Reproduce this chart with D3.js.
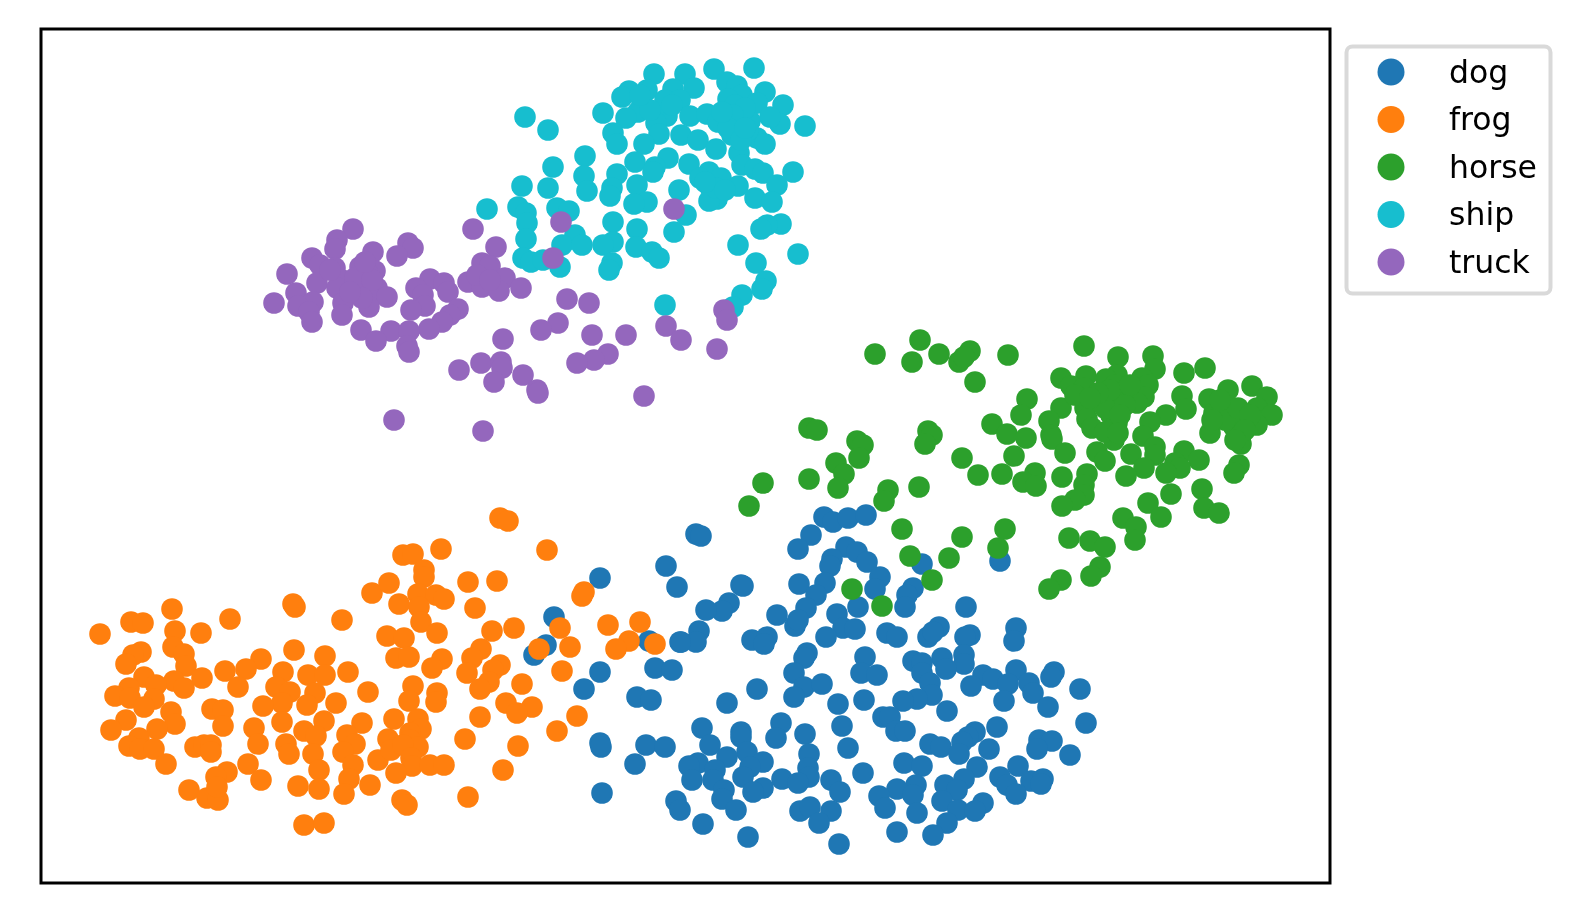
<!DOCTYPE html>
<html>
<head>
<meta charset="utf-8">
<script src="https://cdn.jsdelivr.net/npm/d3@7"></script>
<style>html,body{margin:0;padding:0;background:#fff;overflow:hidden}svg{display:block;filter:blur(0.5px)}</style>
</head>
<body>
<script>
const categories = ["dog","frog","horse","ship","truck"];
const colors = ["#1f77b4","#ff7f0e","#2ca02c","#17becf","#9467bd"];
const dog = [[600,578],[666,566],[677,587],[554,617],[546,645],[534,655],[649,641],[681,642],[600,672],[584,689],[655,668],[672,670],[637,697],[651,700],[600,743],[601,747],[646,745],[665,747],[635,764],[602,793],
[696,534],[701,536],[741,585],[743,586],[729,603],[722,611],[706,610],[699,631],[696,642],[680,642],[824,517],[833,522],[848,518],[866,515],[811,535],[798,549],[846,547],[857,552],[832,559],[867,562],[830,566],[880,577],[825,583],[799,584],[875,589],[816,595],[913,588],[907,595],[905,607],[922,564],[1000,561],[806,608],[777,615],[858,607],[966,607],[837,614],[795,626],[798,620],[843,628],[855,629],[826,637],[887,633],[897,637],[939,627],[928,637],[933,632],[970,635],[965,637],[1016,628],[1014,641],[752,640],[767,637],[764,644],[807,653],[804,658],[865,657],[942,658],[964,655],[913,661],[922,663],[964,664],[946,669],[794,673],[861,673],[877,675],[922,673],[983,675],[1016,670],[993,679],[1054,672],[1051,677],[804,687],[822,684],[930,683],[971,686],[1008,684],[1029,683],[1033,693],[757,689],[794,697],[932,695],[917,699],[903,701],[1004,701],[1048,707],[1080,689],[727,703],[838,704],[864,700],[947,711],[883,717],[890,717],[896,731],[905,731],[1086,723],[842,726],[781,723],[776,738],[805,734],[702,728],[741,732],[741,737],[710,745],[997,727],[975,732],[968,737],[962,742],[930,744],[941,747],[959,754],[989,749],[1039,740],[1052,741],[1037,749],[848,748],[809,754],[1070,755],[747,752],[727,757],[698,763],[763,762],[689,766],[904,763],[922,766],[977,767],[1018,766],[715,770],[750,767],[808,768],[863,773],[743,777],[692,780],[713,780],[782,779],[809,777],[831,780],[798,783],[1000,777],[964,779],[1031,781],[1043,779],[916,785],[945,785],[1007,785],[1041,784],[763,788],[753,792],[724,790],[897,789],[957,790],[840,792],[879,796],[1016,794],[913,795],[722,799],[676,801],[942,801],[983,803],[680,810],[736,810],[800,811],[810,807],[831,811],[885,808],[917,813],[958,810],[975,811],[819,823],[947,823],[703,824],[897,832],[933,835],[748,837],[839,844]];
const frog = [[100,634],[131,622],[143,623],[172,609],[230,619],[175,631],[201,633],[293,604],[295,607],[342,620],[372,593],[387,636],[141,652],[133,655],[126,664],[173,647],[184,654],[186,666],[294,650],[325,656],[261,659],[246,669],[225,671],[283,672],[308,675],[325,675],[348,672],[144,677],[202,678],[174,681],[184,688],[238,687],[156,685],[129,688],[115,696],[130,698],[154,699],[144,707],[276,687],[290,692],[315,693],[368,692],[282,703],[263,706],[307,705],[336,703],[212,709],[223,710],[171,712],[126,720],[175,724],[157,729],[111,730],[223,726],[282,722],[324,721],[362,723],[254,728],[304,731],[316,736],[347,735],[388,739],[258,744],[286,744],[355,744],[139,738],[129,746],[140,749],[154,749],[195,747],[204,745],[211,745],[211,752],[343,752],[289,754],[313,754],[378,760],[166,764],[248,764],[353,765],[319,770],[227,772],[216,777],[261,780],[349,779],[298,786],[319,789],[370,785],[344,794],[189,790],[207,798],[218,800],[217,787],[304,825],[324,823],
[500,518],[508,521],[547,550],[441,549],[403,555],[413,554],[424,570],[424,577],[389,583],[468,582],[497,581],[584,592],[582,596],[418,594],[436,595],[444,599],[399,604],[419,607],[475,608],[421,622],[437,633],[492,631],[514,628],[404,638],[560,628],[608,625],[640,622],[629,641],[616,649],[655,644],[570,647],[539,649],[481,649],[472,658],[396,658],[409,657],[442,659],[432,668],[500,665],[493,670],[467,673],[562,671],[489,682],[480,689],[522,684],[413,686],[437,693],[409,701],[436,702],[506,703],[532,707],[517,713],[480,717],[577,716],[394,719],[418,719],[421,729],[557,731],[465,739],[410,733],[391,750],[410,740],[418,747],[403,745],[518,746],[411,758],[412,766],[430,765],[444,765],[396,773],[503,770],[402,800],[407,805],[468,797]];
const horse = [[875,354],[920,340],[912,362],[939,354],[970,351],[959,362],[964,357],[1008,355],[975,382],[1084,346],[1118,357],[1153,356],[1155,369],[1184,373],[1205,368],[1061,378],[1086,376],[1117,375],[1106,379],[1142,378],[1148,385],[1071,386],[1084,388],[1027,399],[1252,386],[1228,390],[1182,396],[1267,397],[1209,399],[1104,399],[1117,395],[1128,395],[1144,397],[1137,403],[1114,405],[1061,408],[1085,408],[1186,409],[1257,408],[1230,408],[1214,413],[1272,415],[1021,415],[1111,415],[1166,415],[1049,421],[1087,419],[1150,422],[1257,425],[1244,420],[1117,423],[1092,428],[1234,427],[1210,433],[992,424],[1007,434],[1026,438],[1051,435],[1052,439],[1143,436],[1114,440],[1241,435],[1241,444],[1155,447],[1065,453],[1014,456],[1097,452],[1131,454],[1155,455],[1184,451],[1105,461],[1199,460],[962,458],[1144,468],[1175,463],[1180,468],[1166,473],[1239,465],[1234,473],[978,475],[1002,474],[1035,473],[1023,482],[1036,486],[1062,477],[1087,474],[1126,476],[1084,485],[1202,489],[1171,494],[1084,495],[1148,503],[1075,500],[1062,506],[1204,508],[1161,517],[1219,513],[1123,518],[1136,527],[1135,540],[1069,538],[1090,541],[1105,547],[1100,567],[1091,576],[1061,580],[1049,589],
[809,428],[817,430],[857,441],[863,445],[859,458],[928,431],[932,435],[925,444],[836,463],[844,474],[838,488],[809,479],[763,483],[749,506],[888,490],[884,501],[919,487],[902,529],[962,537],[1005,529],[998,548],[949,558],[910,556],[932,580],[852,589],[882,606],
[1115,385],[1105,408],[1125,405],[1120,415],[1110,390],[1130,385],[1098,393],[1105,432],[1118,433],[1225,420],[1238,408],[1250,415],[1220,400],[1245,430],[1212,420],[1235,440],[1075,395],[1090,398]];
const ship = [[754,68],[714,69],[654,74],[685,74],[694,88],[727,82],[737,86],[629,91],[622,97],[647,90],[673,89],[765,92],[742,95],[728,99],[665,100],[680,100],[783,105],[757,103],[642,103],[603,113],[805,126],[780,124],[770,117],[525,117],[548,130],[638,112],[626,118],[667,116],[690,116],[707,114],[718,122],[737,120],[750,121],[656,123],[613,133],[659,134],[732,135],[681,135],[698,140],[757,138],[765,144],[617,144],[644,144],[716,149],[739,153],[585,156],[668,158],[635,162],[689,164],[742,165],[553,167],[655,167],[793,172],[755,169],[763,173],[709,172],[584,176],[617,174],[653,172],[721,178],[700,178],[777,185],[612,188],[637,185],[522,186],[548,188],[738,186],[710,187],[587,191],[679,190],[610,196],[755,198],[772,202],[717,199],[709,201],[518,207],[647,202],[634,204],[487,209],[557,208],[569,211],[526,213],[686,215],[527,223],[613,222],[781,224],[767,225],[761,229],[637,229],[575,235],[674,232],[526,239],[613,242],[603,245],[738,245],[562,245],[582,245],[798,254],[636,247],[652,252],[659,258],[756,263],[523,258],[531,262],[543,260],[560,267],[612,263],[609,270],[766,281],[762,289],[742,295],[665,305],[733,307],
[735,105],[745,108],[733,115],[728,128],[748,130],[741,140],[722,112],[745,128],[672,105],[650,110],[640,95],[716,188],[705,182],[725,190]];
const truck = [[353,229],[337,240],[335,249],[473,229],[408,243],[413,248],[373,252],[397,256],[496,247],[312,258],[320,265],[360,267],[335,268],[375,271],[287,274],[367,272],[482,263],[490,266],[505,278],[317,283],[342,280],[430,279],[444,283],[416,288],[468,282],[482,287],[499,291],[521,288],[337,288],[363,288],[377,288],[296,293],[448,292],[370,297],[387,297],[423,295],[274,303],[313,302],[298,306],[343,303],[369,307],[425,306],[411,310],[458,309],[309,312],[342,315],[450,315],[312,322],[442,322],[429,329],[361,330],[391,331],[409,331],[376,341],[407,346],[409,352],[567,299],[589,303],[558,323],[541,330],[503,339],[592,335],[626,335],[608,354],[594,360],[577,363],[666,326],[681,340],[724,310],[727,320],[717,349],[481,363],[501,362],[502,368],[459,370],[494,382],[523,375],[537,390],[538,393],[644,396],[394,420],[483,431],[561,222],[553,258],[674,209],
[355,278],[372,280],[362,298],[350,292],[365,262],[477,275],[490,280],[330,270]];
const seriesPoints = [dog, frog, horse, ship, truck];

const W = 1578, H = 924;
const svg = d3.select("body").append("svg").attr("width", W).attr("height", H);
const left = 41, right = 1330, top_ = 29, bottom = 883;
const x = d3.scaleLinear().domain([41, 1330]).range([left, right]);
const y = d3.scaleLinear().domain([29, 883]).range([top_, bottom]);
const color = d3.scaleOrdinal().domain(categories).range(colors);

categories.forEach((c, i) => {
  svg.append("g").attr("class", "series-" + c)
    .selectAll("circle").data(seriesPoints[i]).join("circle")
    .attr("cx", d => x(d[0])).attr("cy", d => y(d[1])).attr("r", 10.8)
    .attr("fill", color(c));
});

svg.append("rect").attr("x", left).attr("y", top_).attr("width", right - left).attr("height", bottom - top_)
  .attr("fill", "none").attr("stroke", "#000").attr("stroke-width", 3);

const lg = svg.append("g").attr("class", "legend");
lg.append("rect").attr("x", 1346.5).attr("y", 46.5).attr("width", 204).attr("height", 247).attr("rx", 6)
  .attr("fill", "#fff").attr("stroke", "#d9d9d9").attr("stroke-width", 4);
const legendY = d3.scalePoint().domain(categories).range([72, 262]);
const items = lg.selectAll("g.item").data(categories).join("g").attr("class", "item");
items.append("circle").attr("cx", 1391).attr("cy", d => legendY(d)).attr("r", 13.5).attr("fill", d => color(d));
items.append("text").attr("x", 1449).attr("y", d => legendY(d) + 10.5)
  .attr("font-family", "'DejaVu Sans', sans-serif").attr("font-size", 31.5).attr("fill", "#000")
  .text(d => d);
</script>
</body>
</html>
